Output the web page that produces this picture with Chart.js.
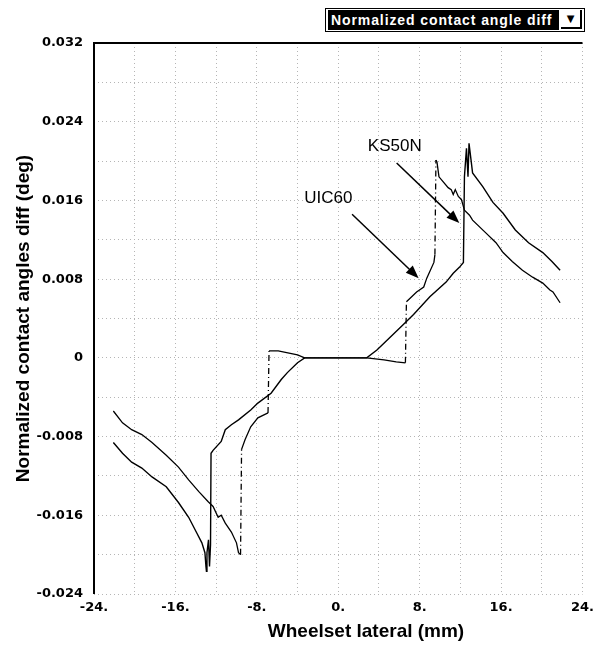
<!DOCTYPE html>
<html>
<head>
<meta charset="utf-8">
<script src="https://cdn.jsdelivr.net/npm/chart.js@4.4.1/dist/chart.umd.min.js"></script>
<style>
  body { margin: 0; background: #fff; }
  #wrap { position: relative; width: 600px; height: 646px; }
  #sel { position: absolute; left: 325px; top: 8px; width: 258px; height: 22px; border: 1px solid #000; background: #fff; }
  #selText { position: absolute; left: 2px; top: 1px; width: 228px; height: 20px; padding-left: 3px; background: #000; color: #fff;
             font: bold 14px 'Liberation Sans', Arial, sans-serif; letter-spacing: 0.9px; line-height: 20px; white-space: nowrap; overflow: hidden; }
  #selBtn { position: absolute; right: 2px; top: 1px; width: 19px; height: 17px; border-right: 2px solid #000; border-bottom: 2px solid #000;
            text-align: center; font: 10px 'DejaVu Sans', sans-serif; line-height: 17px; }
</style>
</head>
<body>
<div id="wrap">
  <canvas id="c" width="600" height="646"></canvas>
  <div id="sel"><span id="selText">Normalized contact angle diff</span><span id="selBtn">▼</span></div>
</div>
<script>
// データ
var uicX = [-22.1, -21.2, -20.3, -19.3, -18.3, -16.9, -15.7, -14.7, -13.7, -12.8, -12.3, -11.8, -11.5, -11.1, -10.5, -10.0, -9.8, -9.6,
            -9.5, -9.15, -8.6, -7.9, -6.9, -6.8, -6.6, -5.9, -4.0, -3.3, -2, 0, 2, 2.8, 4.5, 5.7, 6.6, 6.7, 7.7, 8.4, 8.7, 9.4, 9.5,
            9.6, 9.7, 9.9, 10.8, 11.1, 11.3, 11.5, 11.8, 12.1, 12.4, 12.9, 13.2, 14.5, 15.5, 16.2, 17.1, 18.1, 19.1, 20.1, 20.8, 21.1, 21.8];
var uicY = [-0.0054, -0.0066, -0.0073, -0.0078, -0.0086, -0.0099, -0.0111, -0.0124, -0.0136, -0.0146, -0.0151, -0.0162, -0.0160, -0.0168, -0.0177, -0.0188, -0.0198, -0.0200,
            -0.0093, -0.0083, -0.0070, -0.0061, -0.0056, 0.0007, 0.0007, 0.0007, 0.0003, 0, 0, 0, 0, 0, -0.0002, -0.0004, -0.0005, 0.0057, 0.0067, 0.0072, 0.0081, 0.0097, 0.0105,
            0.0201, 0.0199, 0.0184, 0.0173, 0.0171, 0.0166, 0.0171, 0.0164, 0.0161, 0.0150, 0.0145, 0.0140, 0.0127, 0.0117, 0.0107, 0.0098, 0.0089, 0.0082, 0.0076, 0.0069, 0.0067, 0.0056];

var ksX = [-22.1, -21.2, -20.3, -19.3, -18.3, -16.9, -15.7, -14.7, -13.9, -13.4, -13.1, -13.0, -12.95, -12.9, -12.75, -12.65, -12.55, -12.5,
           -12.3, -11.5, -11.1, -10.5, -9.8, -8.6, -7.9, -6.6, -5.6, -5.0, -4.0, -3.3, -2, 0, 2, 2.8, 3.8, 5.1, 6.4, 7.4, 9.0, 10.6, 11.3, 11.9, 12.3,
           12.4, 12.6, 12.75, 12.85, 13.05, 13.2, 14.2, 15.2, 16.2, 17.4, 18.7, 20.1, 21.0, 21.8];
var ksY = [-0.0086, -0.0097, -0.0106, -0.0112, -0.0121, -0.0131, -0.0147, -0.0162, -0.0178, -0.0188, -0.0198, -0.0212, -0.0217, -0.0198, -0.0185, -0.0212, -0.0190, -0.0097,
           -0.0094, -0.0085, -0.0073, -0.0068, -0.0063, -0.0053, -0.0046, -0.0036, -0.0022, -0.0015, -0.0005, 0, 0, 0, 0, 0, 0.0008, 0.0021, 0.0034, 0.0044, 0.0062, 0.0077, 0.0086, 0.0092, 0.0097,
           0.0184, 0.0213, 0.0184, 0.0218, 0.0201, 0.0188, 0.0174, 0.0158, 0.0147, 0.0130, 0.0117, 0.0107, 0.0098, 0.0089];

var xTicks = [-24, -16, -8, 0, 8, 16, 24];
var xTickLabels = ['-24.', '-16.', '-8.', '0.', '8.', '16.', '24.'];
var yTicks = [-0.024, -0.016, -0.008, 0, 0.008, 0.016, 0.024, 0.032];
var yTickLabels = ['-0.024', '-0.016', '-0.008', '0', '0.008', '0.016', '0.024', '0.032'];

// 注釈 (矢印とラベル)
var notes = [
  { text: 'KS50N', x: 5.55, y: 0.0215, fromX: 5.74, fromY: 0.0198, toX: 11.9, toY: 0.0137 },
  { text: 'UIC60', x: -0.97, y: 0.0162, fromX: 1.36, fromY: 0.0146, toX: 7.9, toY: 0.0081 }
];

function pts(xs, ys) {
  return xs.map(function (v, i) { return { x: v, y: ys[i] }; });
}
function findLabel(list, labels, v) {
  var i = list.findIndex(function (t) { return Math.abs(t - v) < 1e-9; });
  return i >= 0 ? labels[i] : '';
}

var tickFont = { family: "'DejaVu Sans', sans-serif", size: 13, weight: 'bold' };

var annotPlugin = {
  id: 'annot',
  afterDraw: function (chart) {
    var ctx = chart.ctx, a = chart.chartArea, sx = chart.scales.x, sy = chart.scales.y;
    ctx.save();
    // 左と上の枠線
    ctx.strokeStyle = '#000';
    ctx.lineWidth = 2;
    ctx.beginPath();
    ctx.moveTo(a.left, a.bottom);
    ctx.lineTo(a.left, a.top);
    ctx.lineTo(a.right, a.top);
    ctx.stroke();

    ctx.fillStyle = '#000';
    ctx.font = "17px 'Liberation Sans', Arial, sans-serif";
    ctx.textAlign = 'center';
    ctx.textBaseline = 'middle';
    notes.forEach(function (n) {
      ctx.fillText(n.text, sx.getPixelForValue(n.x), sy.getPixelForValue(n.y));
      var x0 = sx.getPixelForValue(n.fromX), y0 = sy.getPixelForValue(n.fromY);
      var x1 = sx.getPixelForValue(n.toX), y1 = sy.getPixelForValue(n.toY);
      var ang = Math.atan2(y1 - y0, x1 - x0);
      ctx.lineWidth = 1.5;
      ctx.beginPath();
      ctx.moveTo(x0, y0);
      ctx.lineTo(x1 - 10 * Math.cos(ang), y1 - 10 * Math.sin(ang));
      ctx.stroke();
      ctx.beginPath();
      ctx.moveTo(x1, y1);
      ctx.lineTo(x1 - 13 * Math.cos(ang) + 5 * Math.sin(ang), y1 - 13 * Math.sin(ang) - 5 * Math.cos(ang));
      ctx.lineTo(x1 - 13 * Math.cos(ang) - 5 * Math.sin(ang), y1 - 13 * Math.sin(ang) + 5 * Math.cos(ang));
      ctx.closePath();
      ctx.fill();
    });

    // x軸タイトル
    ctx.font = "bold 19px 'Liberation Sans', Arial, sans-serif";
    ctx.fillText('Wheelset lateral (mm)', 366, 632);
    ctx.restore();
  }
};

var chart = new Chart(document.getElementById('c'), {
  type: 'line',
  data: {
    datasets: [{
      label: 'UIC60',
      data: pts(uicX, uicY),
      borderColor: '#000',
      borderWidth: 1.3,
      pointRadius: 0,
      tension: 0,
      segment: {
        // 垂直なジャンプは一点鎖線
        borderDash: function (c) {
          var dx = Math.abs(c.p1.parsed.x - c.p0.parsed.x), dy = Math.abs(c.p1.parsed.y - c.p0.parsed.y);
          return (dx <= 0.15 && dy > 0.003) ? [6, 3, 1, 3] : undefined;
        }
      }
    }, {
      label: 'KS50N',
      data: pts(ksX, ksY),
      borderColor: '#000',
      borderWidth: 1.4,
      pointRadius: 0,
      tension: 0
    }]
  },
  options: {
    responsive: false,
    animation: false,
    layout: { padding: { left: 0, right: 13, top: 43, bottom: 0 } },
    plugins: { legend: { display: false }, tooltip: { enabled: false } },
    scales: {
      x: {
        type: 'linear',
        min: -24,
        max: 24,
        afterFit: function (s) { s.height = 52; },
        ticks: {
          stepSize: 4,
          padding: 6,
          color: '#000',
          font: tickFont,
          maxRotation: 0,
          autoSkip: false,
          callback: function (v) { return findLabel(xTicks, xTickLabels, v); }
        },
        grid: { color: '#b5b5b5', lineWidth: 1, drawTicks: false },
        border: { display: false, dash: [1, 3] }
      },
      y: {
        min: -0.024,
        max: 0.032,
        afterFit: function (s) { s.width = 94; },
        ticks: {
          stepSize: 0.004,
          padding: 11,
          color: '#000',
          font: tickFont,
          autoSkip: false,
          callback: function (v) { return findLabel(yTicks, yTickLabels, v); }
        },
        grid: { color: '#b5b5b5', lineWidth: 1, drawTicks: false },
        border: { display: false, dash: [1, 3] },
        title: {
          display: true,
          text: 'Normalized contact angles diff (deg)',
          color: '#000',
          font: { family: "'Liberation Sans', Arial, sans-serif", size: 19, weight: 'bold' },
          padding: { top: 12, bottom: 0 }
        }
      }
    }
  },
  plugins: [annotPlugin]
});
</script>
</body>
</html>
